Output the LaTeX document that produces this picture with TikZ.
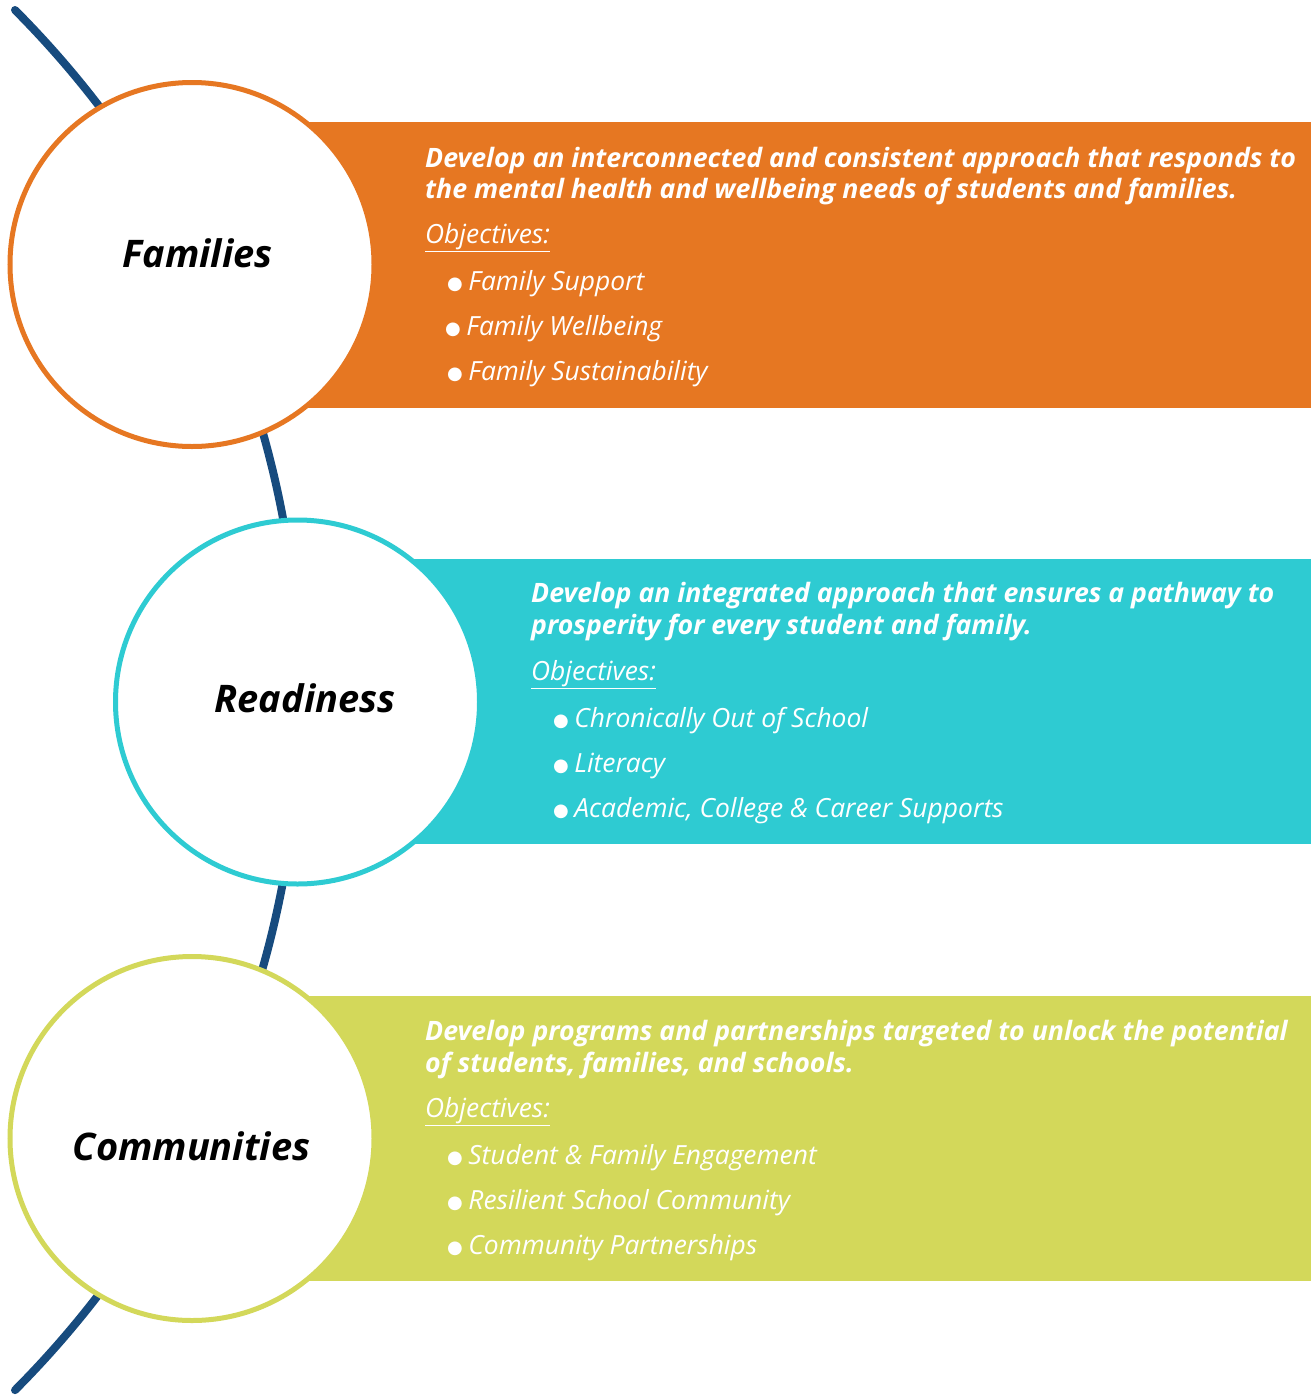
\documentclass[tikz,border=0pt]{standalone}
\usepackage{fontspec}
\setmainfont{Open Sans}
\newfontfamily\symfont{DejaVu Sans}
\definecolor{cOrange}{HTML}{E67722}
\definecolor{cTeal}{HTML}{2ECBD2}
\definecolor{cGreen}{HTML}{D3D85A}
\definecolor{cBlue}{HTML}{174B7E}
\tikzset{
  ring/.style={circle, draw=#1, line width=5pt, fill=white, minimum size=364pt, inner sep=0pt},
  band/.style={fill=#1, draw=none},
  label/.style={font=\fontsize{38}{42}\selectfont\bfseries\itshape, text=black, inner sep=0pt},
  head/.style={font=\fontsize{26.7}{30}\selectfont\bfseries\itshape, text=white, anchor=base west, inner sep=0pt},
  obj/.style={font=\fontsize{26.4}{30}\selectfont\itshape, text=white, anchor=base west, inner sep=0pt},
  item/.style={font=\fontsize{26.4}{30}\selectfont\itshape, text=white, anchor=base west, inner sep=0pt},
}
\newcommand{\bul}{{\symfont\fontsize{18}{18}\selectfont\raisebox{1pt}{●}}\hspace{5.5pt}}
\begin{document}
\begin{tikzpicture}[x=1pt,y=-1pt]
\useasboundingbox (0,0) rectangle (1311,1395);
% spine
\draw[cBlue, line width=8pt, line cap=round] (15,10) arc[start angle=-44.88, end angle=44.88, radius=978];
% bands
\fill[band=cOrange] (191,122) rectangle (1311,408);
\fill[band=cTeal] (297.5,559) rectangle (1311,844);
\fill[band=cGreen] (191,996) rectangle (1311,1281);
% circles
\node[ring=cOrange] (c1) at (192,264.5) {};
\node[ring=cTeal] (c2) at (297.5,702) {};
\node[ring=cGreen] (c3) at (192,1138.5) {};
\node[label, anchor=base] (l1) at (197.5,267) {Families};
\node[label, anchor=base] (l2) at (305,712) {Readiness};
\node[label, anchor=base] (l3) at (191.5,1160) {Communities};
% Families text
\node[head] (f1) at (425,167) {Develop an interconnected and consistent approach that responds to};
\node[head] (f2) at (425,198) {the mental health and wellbeing needs of students and families.};
\node[obj] (fo) at (425,243) {\underline{Objectives:}};
\node[item] (fb1) at (447,290) {\bul Family Support};
\node[item] (fb2) at (445,335) {\bul Family Wellbeing};
\node[item] (fb3) at (447,380) {\bul Family Sustainability};
% Readiness text
\node[head] (r1) at (531,602) {Develop an integrated approach that ensures a pathway to};
\node[head] (r2) at (531,634) {prosperity for every student and family.};
\node[obj] (ro) at (531,680) {\underline{Objectives:}};
\node[item] (rb1) at (553,727) {\bul Chronically Out of School};
\node[item] (rb2) at (553,772) {\bul Literacy};
\node[item] (rb3) at (553,817) {\bul Academic, College \& Career Supports};
% Communities text
\node[head] (g1) at (425,1040) {Develop programs and partnerships targeted to unlock the potential};
\node[head] (g2) at (425,1072) {of students, families, and schools.};
\node[obj] (go) at (425,1117) {\underline{Objectives:}};
\node[item] (gb1) at (447,1164) {\bul Student \& Family Engagement};
\node[item] (gb2) at (447,1209) {\bul Resilient School Community};
\node[item] (gb3) at (447,1254) {\bul Community Partnerships};
\end{tikzpicture}
\end{document}
